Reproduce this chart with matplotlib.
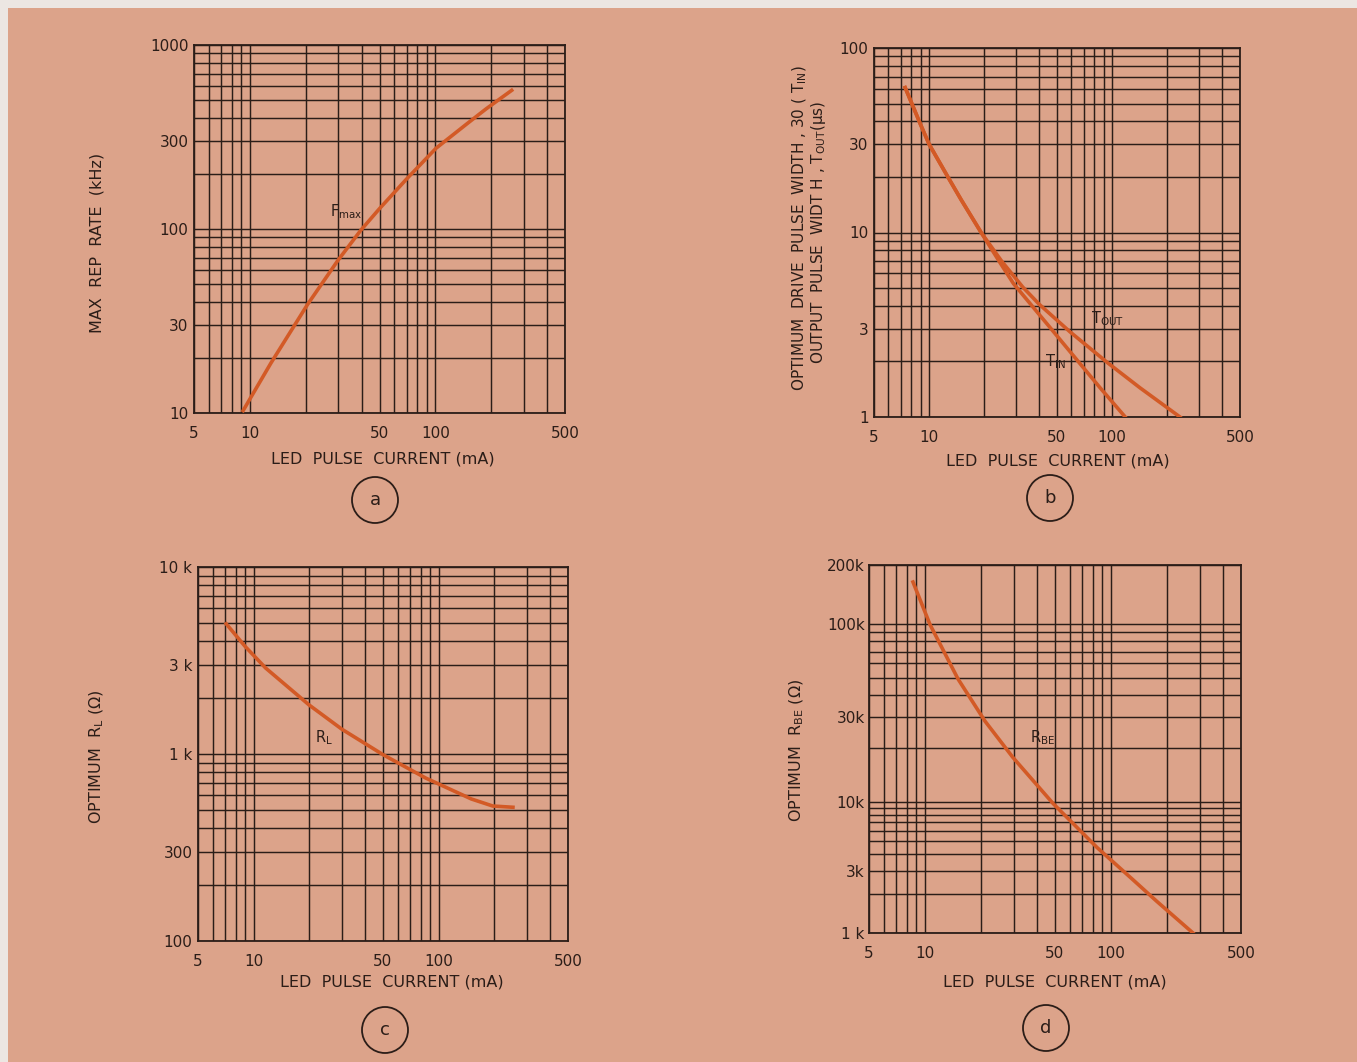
import numpy as np
import matplotlib
matplotlib.use("Agg")
import matplotlib.pyplot as plt
from matplotlib.patches import Circle, Rectangle
from matplotlib.ticker import FixedLocator, NullFormatter

# ---------------- data ----------------
x_ticks = [5, 10, 50, 100, 500]
x_tick_labels = ["5", "10", "50", "100", "500"]

# (a) max rep rate vs LED pulse current
fmax_current = [9.2, 10, 13, 20.4, 29.9, 39.6, 50, 70, 101, 150, 188, 258]
fmax_rate = [10.3, 11.9, 18.7, 38.7, 67.7, 98.3, 129, 187, 275, 377, 450, 567]
a_yticks = [10, 30, 100, 300, 1000]
a_ylabels = ["10", "30", "100", "300", "1000"]

# (b) pulse widths
tin_current = [7.4, 8, 9, 10, 12.8, 15, 19.3, 24.2, 28.9, 36, 46, 65, 86, 118]
tin_width = [61, 50.7, 38.3, 30.1, 19.65, 15.0, 9.96, 6.96, 5.29, 4.07, 3.04, 2.01, 1.44, 1.0]
tout_current = [7.4, 8, 9, 10, 12.8, 15, 19.3, 25, 32.5, 40, 59, 95, 142, 235]
tout_width = [61, 50.7, 38.3, 30.1, 19.65, 15.0, 9.96, 6.96, 5.06, 4.08, 2.89, 1.96, 1.44, 1.0]
b_yticks = [1, 3, 10, 30, 100]
b_ylabels = ["1", "3", "10", "30", "100"]

# (c) optimum RL
rl_current = [7.1, 9.0, 11.6, 20, 30, 50, 85, 150, 196, 252]
rl_ohm = [4970, 3755, 2883, 1824, 1356, 992, 744, 575, 527, 519]
c_yticks = [100, 300, 1000, 3000, 10000]
c_ylabels = ["100", "300", "1 k", "3 k", "10 k"]

# (d) optimum RBE
rbe_current = [8.62, 10.64, 15.05, 21.0, 29.7, 48.8, 84.1, 131.3, 176.7, 276]
rbe_ohm = [163.7e3, 99.2e3, 49.1e3, 28.5e3, 17.8e3, 9.76e3, 4.5e3, 2.55e3, 1.74e3, 1.0e3]
d_yticks = [1e3, 3e3, 1e4, 3e4, 1e5, 2e5]
d_ylabels = ["1 k", "3k", "10k", "30k", "100k", "200k"]

# ---------------- style ----------------
BG = "#DCA38A"
INK = "#2B1D18"
CURVE = "#D35A26"
W, H = 1357, 1062

plt.rcParams["font.family"] = ["DejaVu Sans"]
plt.rcParams["mathtext.fontset"] = "dejavusans"

fig = plt.figure(figsize=(W / 100, H / 100), dpi=100)
fig.patch.set_facecolor("#ECE6E2")
fig.add_artist(Rectangle((8 / W, 0), 1 - 8 / W, 1 - 8 / H, transform=fig.transFigure,
                         facecolor=BG, edgecolor="none", zorder=-10))


def grid_values(lo, hi):
    vals = []
    e = int(np.floor(np.log10(lo))) - 1
    while 10 ** e <= hi:
        for m in range(1, 10):
            v = m * 10 ** e
            if lo * 0.999 <= v <= hi * 1.001:
                vals.append(v)
        e += 1
    return vals


def px_axes(l, t, r, b):
    return fig.add_axes([l / W, 1 - b / H, (r - l) / W, (b - t) / H])


def style(ax, ylo, yhi, yt, ytl, ypad=4):
    ax.set_facecolor("none")
    ax.set_xscale("log")
    if ax.get_yscale() != "function":
        ax.set_yscale("log")
    ax.set_xlim(5, 500)
    ax.set_ylim(ylo, yhi)
    ax.xaxis.set_major_locator(FixedLocator(x_ticks))
    ax.xaxis.set_minor_locator(FixedLocator(grid_values(5, 500)))
    ax.set_xticklabels(x_tick_labels)
    ax.xaxis.set_minor_formatter(NullFormatter())
    ax.yaxis.set_major_locator(FixedLocator(yt))
    ax.yaxis.set_minor_locator(FixedLocator(grid_values(ylo, yhi)))
    ax.set_yticklabels(ytl)
    ax.yaxis.set_minor_formatter(NullFormatter())
    ax.tick_params(which="both", length=0, colors=INK, labelsize=11)
    ax.tick_params(axis="x", pad=9)
    ax.tick_params(axis="y", pad=ypad)
    ax.grid(True, which="both", color=INK, linewidth=1.05)
    ax.set_axisbelow(True)
    for s in ax.spines.values():
        s.set_color(INK)
        s.set_linewidth(1.3)


LW = 2.6

# ---- (a)
axa = px_axes(194, 45, 565, 413)
style(axa, 10, 1000, a_yticks, a_ylabels)
axa.plot(fmax_current, fmax_rate, color=CURVE, lw=LW, solid_joinstyle="round", zorder=5)
axa.text(27, 125, r"F$_{\mathrm{max}}$", fontsize=10.5, color=INK, va="center", ha="left", zorder=6)

# ---- (b)
axb = px_axes(874, 48, 1240, 417)
style(axb, 1, 100, b_yticks, b_ylabels)
axb.plot(tin_current, tin_width, color=CURVE, lw=LW, solid_joinstyle="round", zorder=5)
axb.plot(tout_current, tout_width, color=CURVE, lw=LW, solid_joinstyle="round", zorder=5)
axb.text(77, 3.4, r"T$_{\mathrm{OUT}}$", fontsize=10.5, color=INK, va="center", ha="left", zorder=6)
axb.text(43, 2.0, r"T$_{\mathrm{IN}}$", fontsize=10.5, color=INK, va="center", ha="left", zorder=6)

# ---- (c)
axc = px_axes(198, 567, 568, 941)
style(axc, 100, 10000, c_yticks, c_ylabels)
axc.plot(rl_current, rl_ohm, color=CURVE, lw=LW, solid_joinstyle="round", zorder=5)
axc.text(21.5, 1230, r"R$_{\mathrm{L}}$", fontsize=10.5, color=INK, va="center", ha="left", zorder=6)

# ---- (d) the printed grid is not evenly logarithmic: stretched top, compressed bottom
KT, KB = 1.099, 0.735


def fwd(y):
    ly = np.log10(np.clip(y, 1e-9, None))
    return np.where(ly >= 5, 5 + (ly - 5) * KT, np.where(ly >= 4, ly, 4 - (4 - ly) * KB))


def inv(u):
    u = np.asarray(u, dtype=float)
    return np.where(u >= 5, 10 ** (5 + (u - 5) / KT),
                    np.where(u >= 4, 10 ** u, 10 ** (4 - (4 - u) / KB)))


axd = px_axes(869, 565, 1241, 933)
axd.set_yscale("function", functions=(fwd, inv))
style(axd, 1e3, 2e5, d_yticks, d_ylabels, ypad=3)
axd.plot(rbe_current, rbe_ohm, color=CURVE, lw=LW, solid_joinstyle="round", zorder=5)
axd.text(36.5, 23e3, r"R$_{\mathrm{BE}}$", fontsize=10.5, color=INK, va="center", ha="left", zorder=6)


# ---------------- labels ----------------
def ftext(x, y, s, **kw):
    kw.setdefault("fontsize", 11.5)
    kw.setdefault("color", INK)
    kw.setdefault("ha", "center")
    kw.setdefault("va", "center")
    fig.text(x / W, 1 - y / H, s, **kw)


xl = "LED  PULSE  CURRENT (mA)"
ftext(383, 459, xl)
ftext(1058, 461, xl)
ftext(392, 982, xl)
ftext(1055, 982, xl)

ftext(97, 243, "MAX  REP  RATE  (kHz)", rotation=90)
ftext(800, 228, r"OPTIMUM  DRIVE  PULSE  WIDTH , 30 ( T$_{\mathrm{IN}}$)", rotation=90, fontsize=11)
ftext(818, 232, r"OUTPUT  PULSE  WIDT H , T$_{\mathrm{OUT}}$(μs)", rotation=90, fontsize=11)
ftext(97, 757, r"OPTIMUM  R$_{\mathrm{L}}$ (Ω)", rotation=90)
ftext(797, 750, r"OPTIMUM  R$_{\mathrm{BE}}$ (Ω)", rotation=90)

for cx, cy, lab in [(375, 500, "a"), (1050, 498, "b"), (385, 1030, "c"), (1046, 1028, "d")]:
    fig.add_artist(Circle((cx / 100, (H - cy) / 100), 0.23, transform=fig.dpi_scale_trans,
                          facecolor="none", edgecolor=INK, linewidth=1.3))
    ftext(cx, cy, lab, fontsize=13)

fig.savefig("out.png", dpi=100, facecolor=fig.get_facecolor())
